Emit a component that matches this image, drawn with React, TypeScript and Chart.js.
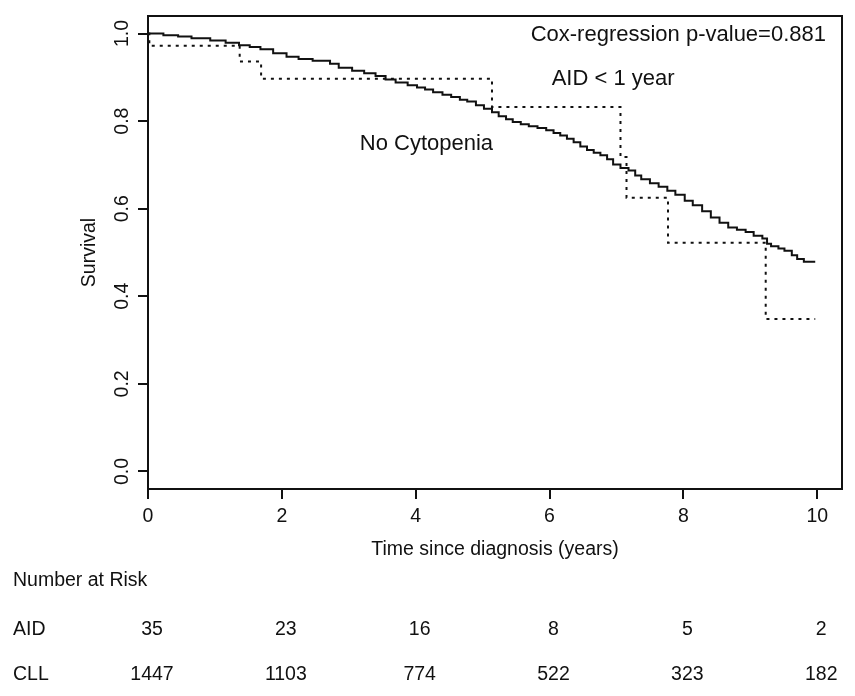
import { useEffect, useRef } from "react";
import { Chart, registerables } from "chart.js";

Chart.register(...registerables);

// ---- Data ----
const cllTimes = [0, 0.23, 0.45, 0.65, 0.93, 1.16, 1.36, 1.52, 1.68, 1.87, 2.07, 2.25, 2.46, 2.72, 2.85, 3.05, 3.23, 3.4, 3.55, 3.7, 3.88, 4.02, 4.14, 4.26, 4.4, 4.53, 4.66, 4.77, 4.9, 5.02, 5.14, 5.24, 5.35, 5.45, 5.57, 5.69, 5.82, 5.95, 6.06, 6.16, 6.26, 6.36, 6.46, 6.56, 6.66, 6.76, 6.86, 6.95, 7.06, 7.18, 7.28, 7.37, 7.5, 7.63, 7.76, 7.88, 8.02, 8.14, 8.28, 8.41, 8.54, 8.67, 8.8, 8.93, 9.05, 9.18, 9.25, 9.31, 9.42, 9.51, 9.62, 9.7, 9.8, 9.97];
const cllSurv = [1.0, 0.996, 0.993, 0.989, 0.984, 0.979, 0.973, 0.969, 0.964, 0.955, 0.947, 0.942, 0.938, 0.931, 0.922, 0.915, 0.909, 0.903, 0.895, 0.888, 0.882, 0.877, 0.872, 0.866, 0.86, 0.855, 0.849, 0.845, 0.836, 0.828, 0.82, 0.811, 0.804, 0.798, 0.793, 0.788, 0.784, 0.779, 0.773, 0.767, 0.76, 0.752, 0.742, 0.734, 0.728, 0.722, 0.713, 0.701, 0.693, 0.687, 0.676, 0.667, 0.658, 0.65, 0.641, 0.632, 0.618, 0.608, 0.594, 0.58, 0.568, 0.557, 0.552, 0.547, 0.538, 0.532, 0.52, 0.514, 0.509, 0.504, 0.494, 0.485, 0.479, 0.479];

const aidTimes = [0, 0.02, 1.37, 1.69, 5.14, 7.06, 7.15, 7.77, 9.23, 9.97];
const aidSurv = [1.0, 0.972, 0.936, 0.897, 0.832, 0.718, 0.625, 0.522, 0.348, 0.348];

const xTicks = [0, 2, 4, 6, 8, 10];
const yTicks = [0.0, 0.2, 0.4, 0.6, 0.8, 1.0];

const riskTimes = [0, 2, 4, 6, 8, 10];
const riskAID = [35, 23, 16, 8, 5, 2];
const riskCLL = [1447, 1103, 774, 522, 323, 182];

const xTitle = "Time since diagnosis (years)";
const yTitle = "Survival";
const pValueText = "Cox-regression p-value=0.881";
const aidLabel = "AID < 1 year";
const cllLabel = "No Cytopenia";
const riskTitle = "Number at Risk";
const riskRowNames = ["AID", "CLL"];

const FONT = '19.5px "Liberation Sans", Arial, sans-serif';
const FONT_BIG = '22px "Liberation Sans", Arial, sans-serif';
const INK = "#111";

function txt(
  ctx: CanvasRenderingContext2D,
  s: string,
  x: number,
  y: number,
  align: CanvasTextAlign,
  rot = 0,
  font = FONT
) {
  ctx.save();
  ctx.translate(x, y);
  if (rot) ctx.rotate(rot);
  ctx.font = font;
  ctx.fillStyle = INK;
  ctx.textAlign = align;
  ctx.textBaseline = "alphabetic";
  ctx.fillText(s, 0, 0);
  ctx.restore();
}

const decorPlugin = {
  id: "decor",
  afterDraw(chart: any) {
    const ctx: CanvasRenderingContext2D = chart.ctx;
    const xs = chart.scales.x;
    const ys = chart.scales.y;
    const a = chart.chartArea;
    ctx.save();
    ctx.strokeStyle = INK;
    ctx.lineWidth = 2;
    ctx.strokeRect(a.left, a.top, a.right - a.left, a.bottom - a.top);
    ctx.beginPath();
    xTicks.forEach((v) => {
      const px = Math.round(xs.getPixelForValue(v));
      ctx.moveTo(px, a.bottom);
      ctx.lineTo(px, a.bottom + 10);
    });
    yTicks.forEach((v) => {
      const py = Math.round(ys.getPixelForValue(v));
      ctx.moveTo(a.left, py);
      ctx.lineTo(a.left - 10, py);
    });
    ctx.stroke();
    ctx.restore();

    xTicks.forEach((v) => {
      txt(ctx, String(v), xs.getPixelForValue(v), a.bottom + 33, "center");
    });
    yTicks.forEach((v) => {
      txt(ctx, v.toFixed(1), a.left - 20, ys.getPixelForValue(v), "center", -Math.PI / 2);
    });
    txt(ctx, xTitle, (a.left + a.right) / 2, a.bottom + 66, "center");
    txt(ctx, yTitle, 95, (a.top + a.bottom) / 2, "center", -Math.PI / 2);

    txt(ctx, pValueText, a.right - 16, a.top + 25, "right", 0, FONT_BIG);
    txt(ctx, aidLabel, xs.getPixelForValue(6.95), ys.getPixelForValue(0.882), "center", 0, FONT_BIG);
    txt(ctx, cllLabel, xs.getPixelForValue(4.16), ys.getPixelForValue(0.734), "center", 0, FONT_BIG);

    txt(ctx, riskTitle, 13, 586, "left");
    txt(ctx, riskRowNames[0], 13, 635, "left");
    txt(ctx, riskRowNames[1], 13, 680, "left");
    riskTimes.forEach((t, i) => {
      const px = xs.getPixelForValue(t);
      txt(ctx, String(riskAID[i]), px + 4, 635, "center");
      txt(ctx, String(riskCLL[i]), px + 4, 680, "center");
    });
  },
};

export default function App() {
  const ref = useRef<HTMLCanvasElement | null>(null);
  useEffect(() => {
    if (!ref.current) return;
    const chart = new Chart(ref.current, {
      type: "line",
      data: {
        datasets: [
          {
            label: "CLL",
            data: cllTimes.map((t, i) => ({ x: t, y: cllSurv[i] })),
            stepped: true,
            borderColor: INK,
            borderWidth: 2,
            pointRadius: 0,
            fill: false,
          },
          {
            label: "AID",
            data: aidTimes.map((t, i) => ({ x: t, y: aidSurv[i] })),
            stepped: true,
            borderColor: INK,
            borderWidth: 2,
            borderDash: [3, 5],
            pointRadius: 0,
            fill: false,
          },
        ],
      },
      options: {
        responsive: false,
        animation: false,
        devicePixelRatio: 1,
        layout: { padding: { left: 148, top: 16, right: 13, bottom: 207 } },
        plugins: { legend: { display: false }, tooltip: { enabled: false } },
        scales: {
          x: { type: "linear", min: 0, max: 10.37, display: false },
          y: { type: "linear", min: -0.04, max: 1.04, display: false },
        },
      },
      plugins: [decorPlugin],
    });
    return () => chart.destroy();
  }, []);
  return (
    <div style={{ position: "absolute", left: 0, top: 0, width: 855, height: 696, background: "#fff" }}>
      <canvas ref={ref} width={855} height={696} style={{ display: "block" }} />
    </div>
  );
}
